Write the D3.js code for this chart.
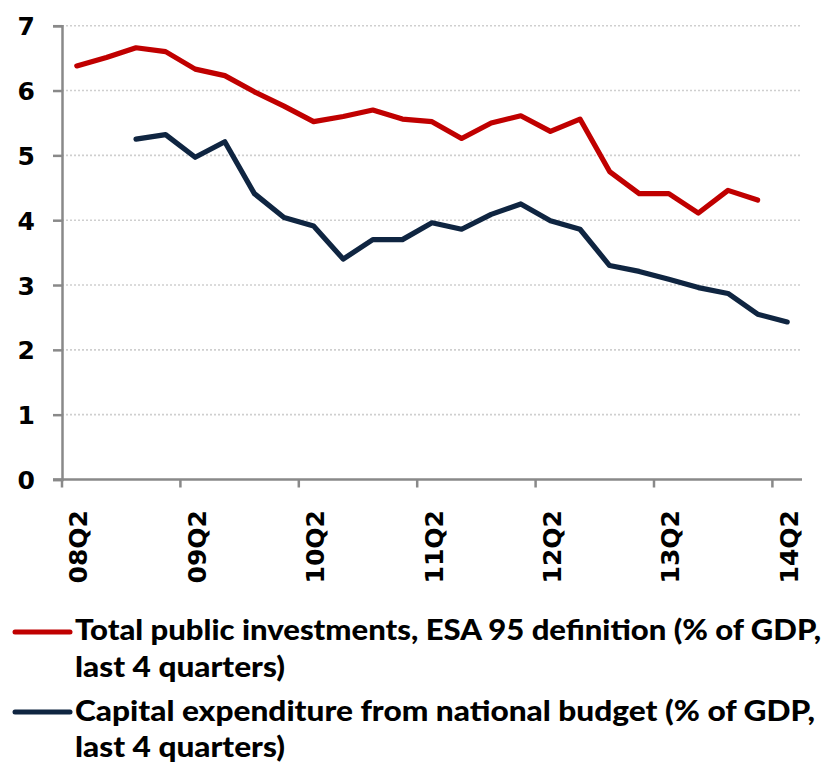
<!DOCTYPE html>
<html>
<head>
<meta charset="utf-8">
<script src="https://cdn.jsdelivr.net/npm/d3@7"></script>
<style>
  html, body { margin: 0; padding: 0; background: #fff; }
  svg { display: block; }
</style>
</head>
<body>
<svg id="chart" width="824" height="762"></svg>
<script>
// Quarters on the category axis
const quarters = [
  "08Q2","08Q3","08Q4","09Q1","09Q2","09Q3","09Q4","10Q1","10Q2","10Q3",
  "10Q4","11Q1","11Q2","11Q3","11Q4","12Q1","12Q2","12Q3","12Q4","13Q1",
  "13Q2","13Q3","13Q4","14Q1","14Q2"
];

// Total public investments, ESA 95 (% of GDP, last 4 quarters)
const totalInvestment = [
  6.38, 6.51, 6.66, 6.60, 6.33, 6.23, 5.98, 5.76, 5.52, 5.60,
  5.70, 5.56, 5.52, 5.26, 5.50, 5.61, 5.37, 5.56, 4.75, 4.41,
  4.41, 4.11, 4.46, 4.31, null
];

// Capital expenditure from national budget (% of GDP, last 4 quarters)
const capitalExpenditure = [
  null, null, 5.25, 5.32, 4.97, 5.21, 4.41, 4.04, 3.91, 3.40,
  3.70, 3.70, 3.96, 3.86, 4.09, 4.25, 3.99, 3.86, 3.30, 3.21,
  3.09, 2.96, 2.87, 2.55, 2.43
];

const yTicks = [0, 1, 2, 3, 4, 5, 6, 7];
const xLabelEvery = 4;

const seriesNames = [
  ["Total public investments, ESA 95 definition (% of GDP,", "last 4 quarters)"],
  ["Capital expenditure from national budget (% of GDP,", "last 4 quarters)"]
];
const seriesColors = ["#C00000", "#0F2541"];

const svg = d3.select("#chart");
const plotLeft = 62, plotRight = 802, plotTop = 25.7, plotBottom = 479.5;

const x = d3.scaleBand().domain(quarters).range([plotLeft, plotRight]).padding(0);
const y = d3.scaleLinear().domain([0, 7]).range([plotBottom, plotTop]);
const cx = q => x(q) + x.bandwidth() / 2;

const tickFont = "'DejaVu Sans', Verdana, sans-serif";
const legendFont = "Lato, 'Noto Sans', sans-serif";

// Dotted horizontal gridlines
svg.append("g")
  .selectAll("line")
  .data(yTicks.filter(d => d > 0))
  .join("line")
  .attr("x1", plotLeft).attr("x2", 800)
  .attr("y1", d => y(d)).attr("y2", d => y(d))
  .attr("stroke", "#cfcfcf")
  .attr("stroke-width", 1.6)
  .attr("stroke-dasharray", "2,2");

// Y axis
const yAxis = svg.append("g")
  .attr("transform", `translate(${plotLeft},0)`)
  .call(d3.axisLeft(y).tickValues(yTicks).tickSize(9).tickPadding(18).tickFormat(d3.format("d")));
yAxis.select(".domain").attr("stroke", "#898989").attr("stroke-width", 2.5);
yAxis.selectAll(".tick line").attr("stroke", "#898989").attr("stroke-width", 2.5);
yAxis.selectAll(".tick text")
  .attr("font-family", tickFont)
  .attr("font-weight", "bold")
  .attr("font-size", 25)
  .attr("fill", "#000")
  .attr("dy", "0.36em");

// X axis: ticks on category boundaries, labels on category centres
const xAxis = svg.append("g");
xAxis.append("line")
  .attr("x1", plotLeft - 9).attr("x2", plotRight)
  .attr("y1", plotBottom).attr("y2", plotBottom)
  .attr("stroke", "#898989").attr("stroke-width", 2.5);
const labelled = quarters.filter((q, i) => i % xLabelEvery === 0);
xAxis.selectAll("line.tick")
  .data(labelled)
  .join("line")
  .attr("class", "tick")
  .attr("x1", d => x(d)).attr("x2", d => x(d))
  .attr("y1", plotBottom).attr("y2", plotBottom + 8)
  .attr("stroke", "#898989").attr("stroke-width", 2.5);
xAxis.selectAll("text")
  .data(labelled)
  .join("text")
  .attr("transform", d => `translate(${cx(d) + 1.5},510) rotate(-90)`)
  .attr("text-anchor", "end")
  .attr("dy", "0.36em")
  .attr("font-family", tickFont)
  .attr("font-weight", "bold")
  .attr("font-size", 25)
  .attr("fill", "#000")
  .text(d => d);

// Series lines
const line = d3.line()
  .defined(d => d.v !== null)
  .x(d => cx(d.q))
  .y(d => y(d.v));

[totalInvestment, capitalExpenditure].forEach((vals, i) => {
  svg.append("path")
    .datum(quarters.map((q, j) => ({ q, v: vals[j] })))
    .attr("fill", "none")
    .attr("stroke", seriesColors[i])
    .attr("stroke-width", 5.2)
    .attr("stroke-linejoin", "round")
    .attr("stroke-linecap", "round")
    .attr("d", line);
});

// Legend (two wrapped lines per entry)
const legendRows = [
  { lineY: 632, base: [640, 677], widths: [746, 210] },
  { lineY: 712, base: [720.5, 757], widths: [740, 210] }
];
legendRows.forEach((row, i) => {
  svg.append("line")
    .attr("x1", 15).attr("x2", 70)
    .attr("y1", row.lineY).attr("y2", row.lineY)
    .attr("stroke", seriesColors[i])
    .attr("stroke-width", 5)
    .attr("stroke-linecap", "round");
  seriesNames[i].forEach((txt, k) => {
    svg.append("text")
      .attr("x", 75).attr("y", row.base[k])
      .attr("font-family", legendFont)
      .attr("font-weight", 900)
      .attr("font-size", 27.5)
      .attr("fill", "#000")
      .attr("textLength", row.widths[k])
      .attr("lengthAdjust", "spacingAndGlyphs")
      .text(txt);
  });
});
</script>
</body>
</html>
